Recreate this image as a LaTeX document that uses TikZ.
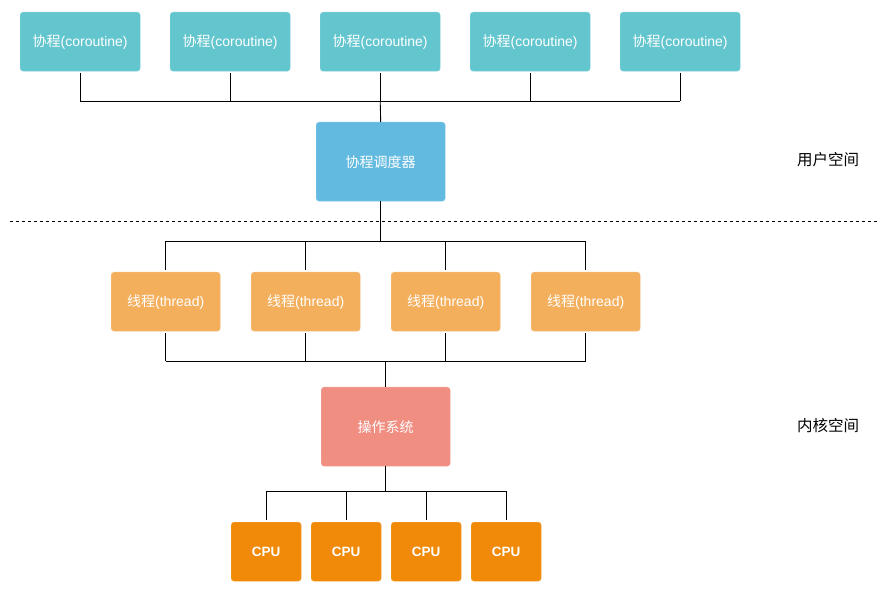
\documentclass[tikz,border=0pt]{standalone}
\usepackage{fontspec}
\setmainfont{Liberation Sans}
\newfontfamily\cjk{Noto Sans CJK SC}
\usepackage{tikz}
\usetikzlibrary{calc,positioning}

\definecolor{cocolor}{HTML}{63C6CE}
\definecolor{schedcolor}{HTML}{63BAE0}
\definecolor{thcolor}{HTML}{F4AF5C}
\definecolor{oscolor}{HTML}{F08E82}
\definecolor{cpucolor}{HTML}{F08A08}

\tikzset{
  box/.style={rounded corners=3pt, text=white, font=\fontsize{14}{16}\selectfont, inner sep=0pt, anchor=north west},
  cobox/.style={box, fill=cocolor, draw=cocolor!80!white, minimum width=120pt, minimum height=59pt},
  schedbox/.style={box, fill=schedcolor, draw=schedcolor!80!white, minimum width=129pt, minimum height=79pt},
  thbox/.style={box, fill=thcolor, draw=thcolor!80!white, minimum width=109pt, minimum height=59pt},
  osbox/.style={box, fill=oscolor, draw=oscolor!80!white, minimum width=129pt, minimum height=79pt},
  cpubox/.style={box, fill=cpucolor, draw=cpucolor!80!white, minimum width=70pt, minimum height=59pt, font=\fontsize{13.5}{15}\selectfont\bfseries},
  link/.style={draw=black, line width=0.9pt},
  spacelabel/.style={font=\fontsize{15.5}{17}\selectfont\cjk, text=black}
}

\begin{document}
\begin{tikzpicture}[x=1pt, y=-1pt]
            \useasboundingbox (0,0) rectangle (892,593);

            \node[cobox] (co1) at (20,12) {{\cjk 协程}(coroutine)};
            \node[cobox] (co2) at (170,12) {{\cjk 协程}(coroutine)};
            \node[cobox] (co3) at (320,12) {{\cjk 协程}(coroutine)};
            \node[cobox] (co4) at (470,12) {{\cjk 协程}(coroutine)};
            \node[cobox] (co5) at (620,12) {{\cjk 协程}(coroutine)};

            \node[schedbox] (sched) at (316,122) {\cjk 协程调度器};

            \node[thbox] (th1) at (111,272) {{\cjk 线程}(thread)};
            \node[thbox] (th2) at (251,272) {{\cjk 线程}(thread)};
            \node[thbox] (th3) at (391,272) {{\cjk 线程}(thread)};
            \node[thbox] (th4) at (531,272) {{\cjk 线程}(thread)};

            \node[osbox] (os) at (321,387) {\cjk 操作系统};

            \node[cpubox] (cpu1) at (231,522) {CPU};
            \node[cpubox] (cpu2) at (311,522) {CPU};
            \node[cpubox] (cpu3) at (391,522) {CPU};
            \node[cpubox] (cpu4) at (471,522) {CPU};

            \node[spacelabel] (user) at (828,160) {用户空间};
            \node[spacelabel] (kernel) at (828,426) {内核空间};

            \coordinate (cobar) at (0,101);
            \coordinate (thtop) at (0,241);
            \coordinate (thbot) at (0,361);
            \coordinate (cpubar) at (0,491);
            \coordinate (sepL) at (10,221);
            \coordinate (sepR) at (878,221);

            \draw[link] (co1.south |- cobar) -- (co5.south |- cobar);
            \foreach \n in {co1,co2,co3,co4,co5}
                \draw[link] ($(\n.south)+(0,2)$) -- (\n.south |- cobar);
            \draw[link] (co3.south |- cobar) -- (sched.north);

            \draw[dashed, line width=0.8pt, dash pattern=on 3pt off 3pt] (sepL) -- (sepR);

            \draw[link] (sched.south) -- (sched.south |- thtop);
            \draw[link] (th1.north |- thtop) -- (th4.north |- thtop);
            \foreach \n in {th1,th2,th3,th4}
                \draw[link] (\n.north |- thtop) -- ($(\n.north)+(0,-2)$);
            \foreach \n in {th1,th2,th3,th4}
                \draw[link] ($(\n.south)+(0,2)$) -- (\n.south |- thbot);
            \draw[link] (th1.south |- thbot) -- (th4.south |- thbot);
            \draw[link] (os.north |- thbot) -- (os.north);

            \draw[link] (os.south) -- (os.south |- cpubar);
            \draw[link] (cpu1.north |- cpubar) -- (cpu4.north |- cpubar);
            \foreach \n in {cpu1,cpu2,cpu3,cpu4}
                \draw[link] (\n.north |- cpubar) -- ($(\n.north)+(0,-2)$);

        \end{tikzpicture}
\end{document}
